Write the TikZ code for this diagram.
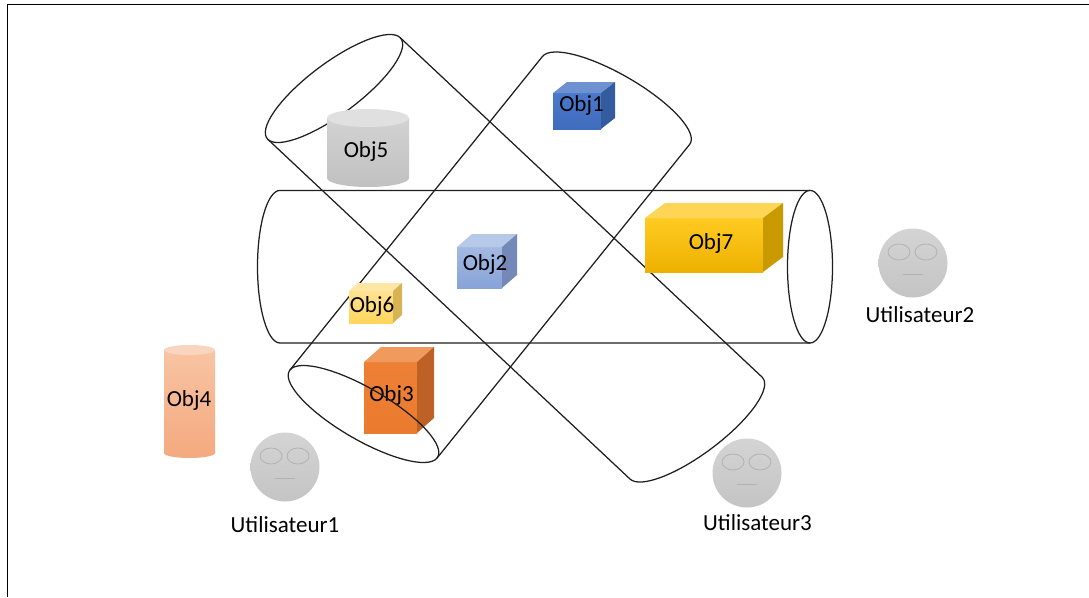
\documentclass[tikz,border=0pt]{standalone}
\usepackage{fontspec}
\setmainfont{Carlito}

% cube colours: F1/F2 front gradient, T top face, S side face
\definecolor{blueF1}{HTML}{4A78CA}
\definecolor{blueF2}{HTML}{406CBE}
\definecolor{blueT}{HTML}{6E91D2}
\definecolor{blueS}{HTML}{345B9E}
\definecolor{lblueF1}{HTML}{A3B9E2}
\definecolor{lblueF2}{HTML}{87A3D8}
\definecolor{lblueT}{HTML}{B7C9E8}
\definecolor{lblueS}{HTML}{7489B8}
\definecolor{pyelF1}{HTML}{FFE394}
\definecolor{pyelF2}{HTML}{FFD55C}
\definecolor{pyelT}{HTML}{FFE7A3}
\definecolor{pyelS}{HTML}{D6B354}
\definecolor{goldF1}{HTML}{FFCB22}
\definecolor{goldF2}{HTML}{EDB100}
\definecolor{goldT}{HTML}{FFD556}
\definecolor{goldS}{HTML}{C99A00}
\definecolor{orangeF1}{HTML}{EE8035}
\definecolor{orangeF2}{HTML}{EA7A2E}
\definecolor{orangeT}{HTML}{F19A5E}
\definecolor{orangeS}{HTML}{BE6127}
% can colours
\definecolor{salmonB1}{HTML}{F8C4A3}
\definecolor{salmonB2}{HTML}{F4A97E}
\definecolor{salmonT}{HTML}{F9D5BF}
\definecolor{greyB1}{HTML}{D2D2D2}
\definecolor{greyB2}{HTML}{C1C1C1}
\definecolor{greyT}{HTML}{E0E0E0}
% user faces
\definecolor{faceA}{HTML}{D4D4D4}
\definecolor{faceB}{HTML}{C4C4C4}
\definecolor{faceLine}{HTML}{B2B2B2}

% box in perspective: x, y (front top-left, y downwards), width, height, depth dx, dy, colour prefix
\newcommand{\cubebox}[7]{%
  \shade[top color=#7F1, bottom color=#7F2] (#1,-#2) rectangle ++(#3,-#4);
  \fill[#7T] (#1,-#2) -- ++(#5,#6) -- ++(#3,0) -- ++(-#5,-#6) -- cycle;
  \fill[#7S] (#1+#3,-#2) -- ++(#5,#6) -- ++(0,-#4) -- ++(-#5,-#6) -- cycle;
}

% upright can: left x, width, top centre y, bottom centre y, ellipse radius, colour prefix
\newcommand{\canshape}[6]{%
  \shade[top color=#6B1, bottom color=#6B2]
    (#1,-#3) -- (#1,-#4) arc[start angle=180, end angle=360, x radius=#2/2, y radius=#5]
    -- (#1+#2,-#3) -- cycle;
  \fill[#6T] (#1+#2/2,-#3) ellipse[x radius=#2/2, y radius=#5];
}

% transparent tube: full cap centre (x,y), axis unit vector, cap direction vector,
% length, cap half-width, cap depth
\newcommand{\tubeshape}[9]{%
  \begin{scope}[cm={#3,#4,#5,#6,(#1,#2)}]
    \draw[tube] (0,0) ellipse[x radius=#9, y radius=#8];
    \draw[tube] (0,#8) -- (#7,#8)
      arc[start angle=90, end angle=-90, x radius=#9, y radius=#8] -- (0,-#8);
  \end{scope}
}

\begin{document}
\begin{tikzpicture}[x=1pt, y=1pt, line join=round,
  tube/.style={draw=black!88, line width=1.25pt},
  lbl/.style={font=\fontsize{23}{27}\selectfont, text=black, inner sep=0pt, anchor=base},
  face/.style={circle, minimum size=69pt, inner sep=0pt, top color=faceA, bottom color=faceB},
  eye/.style={draw=faceLine, line width=0.8pt},
  mouth/.style={draw=faceLine, line width=0.9pt}]

\useasboundingbox (0,0) rectangle (1089,-597);

% frame
\draw[line width=1.6pt] (7.5,-597) -- (7.5,-4.5) -- (1089,-4.5);

% Obj3 sits behind the lower tube cap
\cubebox{364}{362}{53}{71}{17}{15}{orange}
\node[lbl] (obj3) at (391.5,-401.5) {Obj3};

% the three tubes
\tubeshape{810}{-266.7}{-1}{0}{0}{1}{530}{76.3}{22.5}
\tubeshape{334}{-88.5}{0.7294}{-0.6841}{0.7914}{0.6115}{496.3}{83.4}{26}
\tubeshape{363.5}{-414}{0.6273}{0.7789}{0.858}{-0.514}{402.5}{85.7}{26}

% objects
\cubebox{553}{93}{48}{36}{14}{11}{blue}
\node[lbl] (obj1) at (581.5,-111.5) {Obj1};

\cubebox{457}{247}{45}{41}{15}{13}{lblue}
\node[lbl] (obj2) at (485,-270) {Obj2};

\cubebox{349}{291}{44}{32}{9}{8}{pyel}
\node[lbl] (obj6) at (372,-312) {Obj6};

\cubebox{645}{218}{118}{54}{20}{15}{gold}
\node[lbl] (obj7) at (711,-249) {Obj7};

\canshape{164}{51}{350}{453}{5}{salmon}
\node[lbl] (obj4) at (189,-406.5) {Obj4};

\canshape{327}{82}{118}{178}{9}{grey}
\node[lbl] (obj5) at (366,-157) {Obj5};

% users
\foreach \n/\x/\y/\lx/\ly in {1/285/467/285/532, 2/913/263/920/322, 3/747/473/757.5/530}{
  \node[face] (user\n) at (\x,-\y) {};
  \draw[eye] ([shift={(-14,11)}]user\n.center) ellipse[x radius=11, y radius=8];
  \draw[eye] ([shift={(13,11)}]user\n.center) ellipse[x radius=11, y radius=8];
  \draw[mouth] ([shift={(-10,-11)}]user\n.center) -- ([shift={(10,-11)}]user\n.center);
  \node[lbl] (userlabel\n) at (\lx,-\ly) {Utilisateur\n};
}

\end{tikzpicture}
\end{document}
